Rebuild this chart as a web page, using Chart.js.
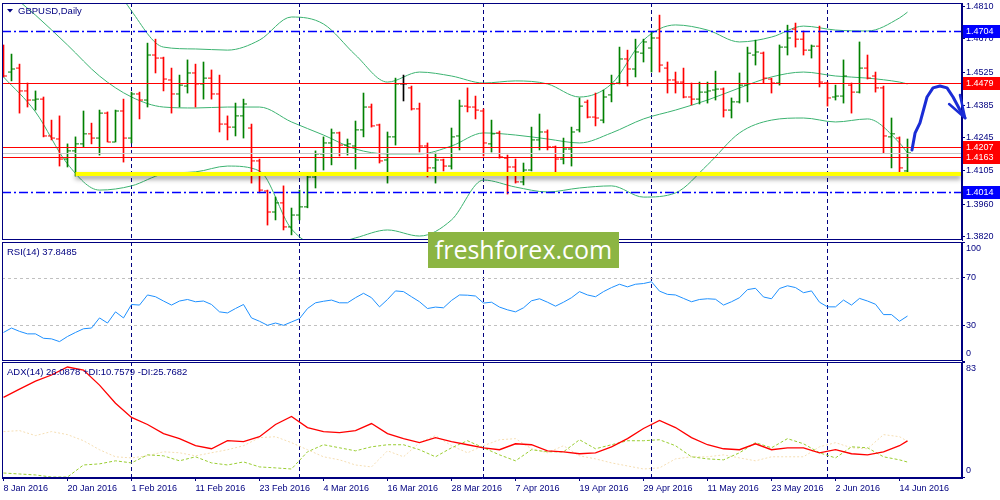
<!DOCTYPE html>
<html>
<head>
<meta charset="utf-8">
<script src="https://cdn.jsdelivr.net/npm/chart.js@4.4.0/dist/chart.umd.min.js"></script>
<style>
  body { margin: 0; background: #fff; width: 1000px; height: 500px; overflow: hidden; position: relative; }
  canvas { position: absolute; left: 0; }
  #main { top: 0; }
  #rsi { top: 242px; }
  #adx { top: 362px; }
  #logo { position: absolute; left: 428px; top: 232px; width: 191px; height: 36px; background: #8cb543;
          color: #fff; font: 25px "Open Sans", sans-serif; line-height: 35px; text-align: center; }
</style>
</head>
<body>
<canvas id="main" width="1000" height="242"></canvas>
<canvas id="rsi" width="1000" height="120"></canvas>
<canvas id="adx" width="1000" height="138"></canvas>
<div id="logo">freshforex.com</div>
<script>
// GBPUSD daily bars, 8 Jan 2016 .. 15 Jun 2016
const opens = [1.4621,1.4527,1.4544,1.4446,1.4407,1.4411,1.4253,1.4240,1.4154,1.4189,
  1.4219,1.4262,1.4244,1.4351,1.4227,1.4360,1.4244,1.4433,1.4407,1.4600,
  1.4587,1.4493,1.4433,1.4467,1.4523,1.4476,1.4501,1.4433,1.4304,1.4291,
  1.4339,1.4287,1.4146,1.4017,1.3927,1.3966,1.3863,1.3914,1.3949,1.4077,
  1.4176,1.4223,1.4266,1.4214,1.4210,1.4279,1.4377,1.4300,1.4150,1.4249,
  1.4476,1.4459,1.4369,1.4210,1.4116,1.4150,1.4124,1.4253,1.4381,1.4377,
  1.4360,1.4219,1.4266,1.4158,1.4120,1.4056,1.4107,1.4236,1.4270,1.4206,
  1.4154,1.4197,1.4279,1.4398,1.4334,1.4321,1.4429,1.4480,1.4583,1.4540,
  1.4608,1.4630,1.4673,1.4544,1.4493,1.4484,1.4420,1.4411,1.4441,1.4450,
  1.4454,1.4364,1.4399,1.4471,1.4600,1.4608,1.4497,1.4480,1.4634,1.4711,
  1.4668,1.4621,1.4638,1.4480,1.4420,1.4424,1.4471,1.4441,1.4544,1.4510,
  1.4459,1.4249,1.4244,1.4103]
const highs = [1.4643,1.4604,1.4561,1.4480,1.4446,1.4420,1.4321,1.4339,1.4219,1.4249,
  1.4360,1.4308,1.4364,1.4356,1.4364,1.4411,1.4441,1.4441,1.4651,1.4668,
  1.4591,1.4544,1.4514,1.4579,1.4561,1.4570,1.4536,1.4514,1.4339,1.4394,
  1.4411,1.4304,1.4154,1.4021,1.3991,1.4039,1.3944,1.4021,1.4081,1.4189,
  1.4249,1.4283,1.4270,1.4240,1.4317,1.4437,1.4390,1.4304,1.4270,1.4501,
  1.4514,1.4467,1.4394,1.4223,1.4180,1.4154,1.4287,1.4407,1.4459,1.4424,
  1.4369,1.4321,1.4274,1.4171,1.4154,1.4137,1.4291,1.4347,1.4279,1.4210,
  1.4244,1.4291,1.4416,1.4407,1.4437,1.4450,1.4514,1.4634,1.4621,1.4668,
  1.4668,1.4698,1.4771,1.4570,1.4527,1.4544,1.4480,1.4484,1.4484,1.4531,
  1.4459,1.4416,1.4523,1.4634,1.4664,1.4613,1.4501,1.4643,1.4728,1.4737,
  1.4703,1.4643,1.4724,1.4484,1.4471,1.4579,1.4480,1.4656,1.4600,1.4527,
  1.4467,1.4330,1.4249,1.4240]
const lows = [1.4506,1.4489,1.4351,1.4377,1.4364,1.4249,1.4236,1.4124,1.4120,1.4081,
  1.4206,1.4219,1.4171,1.4227,1.4227,1.4141,1.4223,1.4326,1.4377,1.4523,
  1.4446,1.4351,1.4377,1.4437,1.4377,1.4411,1.4411,1.4270,1.4236,1.4253,
  1.4244,1.4051,1.4009,1.3871,1.3893,1.3850,1.3829,1.3893,1.3945,1.4030,
  1.4107,1.4129,1.4167,1.4171,1.4111,1.4249,1.4291,1.4137,1.4051,1.4214,
  1.4403,1.4364,1.4184,1.4077,1.4051,1.4103,1.4111,1.4193,1.4356,1.4326,
  1.4167,1.4184,1.4158,1.4004,1.4051,1.4043,1.4103,1.4193,1.4193,1.4086,
  1.4133,1.4124,1.4270,1.4330,1.4296,1.4309,1.4399,1.4476,1.4467,1.4506,
  1.4570,1.4527,1.4527,1.4437,1.4437,1.4416,1.4386,1.4390,1.4394,1.4407,
  1.4334,1.4330,1.4394,1.4399,1.4557,1.4480,1.4437,1.4471,1.4600,1.4634,
  1.4600,1.4587,1.4463,1.4381,1.4407,1.4394,1.4351,1.4437,1.4497,1.4441,
  1.4180,1.4116,1.4090,1.4090]
const closes = [1.4510,1.4540,1.4446,1.4407,1.4411,1.4253,1.4244,1.4154,1.4189,1.4219,
  1.4262,1.4244,1.4351,1.4227,1.4360,1.4244,1.4433,1.4407,1.4600,1.4587,
  1.4497,1.4433,1.4471,1.4523,1.4476,1.4501,1.4433,1.4304,1.4291,1.4339,
  1.4390,1.4146,1.4021,1.3927,1.3966,1.3863,1.3914,1.3949,1.4077,1.4176,
  1.4223,1.4266,1.4214,1.4219,1.4279,1.4377,1.4296,1.4146,1.4249,1.4476,
  1.4476,1.4369,1.4210,1.4116,1.4150,1.4124,1.4249,1.4381,1.4377,1.4364,
  1.4223,1.4262,1.4163,1.4120,1.4056,1.4107,1.4236,1.4270,1.4206,1.4154,
  1.4197,1.4270,1.4381,1.4334,1.4330,1.4420,1.4476,1.4583,1.4540,1.4613,
  1.4656,1.4673,1.4557,1.4493,1.4484,1.4420,1.4411,1.4441,1.4446,1.4454,
  1.4364,1.4399,1.4471,1.4608,1.4613,1.4501,1.4480,1.4634,1.4673,1.4668,
  1.4621,1.4638,1.4484,1.4416,1.4424,1.4510,1.4441,1.4544,1.4501,1.4459,
  1.4253,1.4262,1.4116,1.4180]

// Bollinger bands, read every 4th bar (last one is bar 113)
const bbBars = [0,4,8,12,16,20,24,28,32,36,40,44,48,52,56,60,64,68,72,76,80,84,88,92,96,100,104,108,112,113]
const bbUpper = [null,null,null,1.5007,1.4789,1.4634,1.4626,1.4621,1.4664,1.4763,1.4733,1.4600,1.4484,1.4527,1.4510,
  1.4480,1.4489,1.4476,1.4420,1.4476,1.4664,1.4729,1.4707,1.4656,1.4677,1.4724,1.4707,1.4703,1.4759,1.4784]
const bbMiddle = [1.4887,1.4771,1.4643,1.4510,1.4420,1.4377,1.4373,1.4377,1.4377,1.4313,1.4257,1.4197,1.4176,1.4176,1.4210,
  1.4266,1.4257,1.4240,1.4223,1.4266,1.4326,1.4364,1.4407,1.4459,1.4506,1.4527,1.4510,1.4501,1.4484,1.4476]
const bbLower = [1.4506,1.4356,1.4133,1.4021,1.4039,1.4090,1.4099,1.4124,1.4103,1.3854,1.3781,1.3816,1.3850,1.3824,1.3893,
  1.4064,1.4034,1.4013,1.4030,1.4039,1.3991,1.4009,1.4129,1.4266,1.4321,1.4330,1.4313,1.4326,1.4223,1.4180]

// RSI(14), one value per bar
const rsi = [24.0,27.7,24.9,22.8,22.8,19.1,18.6,16.3,20.6,24.0,
  27.1,27.7,36.2,31.9,41.3,36.2,47.5,47.0,55.5,54.0,
  50.4,47.0,50.4,51.7,49.8,50.4,47.5,41.3,40.4,44.1,
  47.5,36.2,33.4,30.0,31.9,30.0,32.8,35.6,44.1,48.9,
  50.2,51.2,48.9,48.9,53.2,56.9,53.2,45.5,51.7,58.9,
  58.3,54.0,49.8,44.1,45.3,44.7,50.9,55.5,55.3,54.6,
  48.7,49.4,45.3,43.0,41.3,44.7,50.6,52.3,49.4,46.1,
  49.4,53.2,58.3,55.5,54.0,58.3,61.7,64.5,62.3,64.5,
  65.1,66.6,58.7,56.0,55.5,52.6,49.8,51.7,52.3,51.9,
  47.0,49.8,53.2,60.0,61.1,53.8,52.3,60.9,63.2,61.7,
  57.4,58.9,49.4,45.5,45.5,51.2,47.0,52.6,50.4,47.7,
  39.0,39.0,33.4,37.8]

// ADX(14), read every 2nd bar (last one is bar 113)
const diBars = []
for (let i = 0; i <= 112; i += 2) diBars.push(i)
diBars.push(113)
const adx = [57.5,63.4,69.2,73.6,79.4,77.2,66.3,53.2,43.0,37.9,31.3,27.7,22.6,20.4,26.2,25.5,29.1,37.9,43.7,35.7,
  32.8,32.0,33.5,38.6,31.3,27.7,24.8,28.4,25.5,23.3,21.1,19.7,24.0,23.3,18.9,18.2,16.8,17.5,21.8,27.7,
  35.0,40.8,35.7,28.4,23.3,20.4,19.7,24.0,19.7,21.1,21.1,17.5,19.7,16.8,16.0,18.2,22.6,26.1]
const plusDI = [2.9,2.2,1.5,0,0,8.7,9.5,11.7,10.2,16.0,15.3,11.7,14.6,10.2,8.7,10.9,7.3,6.6,5.8,18.2,
  23.3,21.1,18.9,21.8,23.3,23.3,19.7,14.6,21.1,26.2,21.1,16.0,11.7,19.7,18.2,18.2,26.9,20.4,23.3,26.2,
  26.2,26.9,22.6,14.6,13.1,12.4,17.5,24.8,21.1,27.7,24.0,17.5,13.8,21.8,21.1,14.6,12.4,10.8]
const minusDI = [32.8,33.5,29.9,32.8,30.6,26.2,19.7,14.6,13.8,15.3,18.2,17.5,15.3,17.5,19.7,22.6,28.4,29.1,24.8,19.7,
  14.6,12.4,8.7,7.3,18.9,14.6,24.8,29.9,22.6,17.5,22.6,26.9,27.7,20.4,17.5,22.6,15.3,13.1,10.2,8.0,
  5.8,6.6,13.1,14.6,14.6,16.0,13.8,11.7,14.6,14.6,14.6,21.8,24.8,21.1,20.4,30.6,29.1,25.8]

// axes
const priceTicks = [1.4810, 1.4670, 1.4525, 1.4385, 1.4245, 1.4105, 1.3960, 1.3820]
const rsiTicks = [100, 70, 30, 0]
const rsiLevels = [70, 30]
const adxTicks = [83, 0]
const dateBars = [0, 8, 16, 24, 32, 40, 48, 56, 64, 72, 80, 88, 96, 104, 112]
const dateLabels = ['8 Jan 2016', '20 Jan 2016', '1 Feb 2016', '11 Feb 2016', '23 Feb 2016', '4 Mar 2016',
  '16 Mar 2016', '28 Mar 2016', '7 Apr 2016', '19 Apr 2016', '29 Apr 2016', '11 May 2016',
  '23 May 2016', '2 Jun 2016', '14 Jun 2016']
const monthStarts = [16, 37, 60, 81, 103]

// drawn objects on the price chart
const redLevels = [1.4479, 1.4207, 1.4163]
const blueLevels = [1.4704, 1.4014]
const supportLevel = 1.4090
const supportFrom = 9
const arrowBars = [113.56, 113.94, 114.56, 115.44, 116.19, 117.06, 117.94, 118.69, 119.56, 120.2]
const arrowPrices = [1.4193, 1.4265, 1.4309, 1.4420, 1.4459, 1.4467, 1.4459, 1.4420, 1.4364, 1.4330]
const arrowHead = [[118.2, 1.4390], [120.2, 1.4330], [119.56, 1.4429]]

const navy = '#000080'
const fam = '"Liberation Sans", Arial, sans-serif'
Chart.defaults.font.family = fam
Chart.defaults.font.size = 9
Chart.defaults.color = navy
const xMin = -0.1875, xMax = 119.8125

const barColor = closes.map((c, i) => c > opens[i] ? '#008000' : (c < opens[i] ? '#ff0000' : '#000000'))

const frame = {
  id: 'frame',
  beforeDatasetsDraw(chart) {
    const { ctx, chartArea: a, scales: { x } } = chart
    ctx.save()
    ctx.strokeStyle = navy
    ctx.lineWidth = 1
    ctx.setLineDash([4, 3])
    monthStarts.forEach(i => {
      const px = Math.round(x.getPixelForValue(i) - 0.5) + 0.5
      ctx.beginPath(); ctx.moveTo(px, a.top); ctx.lineTo(px, a.bottom); ctx.stroke()
    })
    ctx.restore()
  },
  afterDraw(chart) {
    const { ctx, chartArea: a } = chart
    ctx.save()
    ctx.strokeStyle = navy
    ctx.lineWidth = 1
    ctx.strokeRect(a.left + 0.5, a.top + 0.5, a.right - a.left - 1, a.bottom - a.top - 1)
    const t = chart.options.plugins.frame
    if (t && t.title) {
      ctx.fillStyle = navy
      ctx.font = '9.5px ' + fam
      ctx.textBaseline = 'middle'
      ctx.fillText(t.title, a.left + t.titleX, a.top + t.titleY)
    }
    if (t && t.sideTicks) {
      const y = chart.scales.y
      ctx.font = '9px ' + fam
      ctx.textBaseline = 'middle'
      t.sideTicks.forEach(v => {
        let py = y.getPixelForValue(v)
        py = Math.min(Math.max(py, a.top + 7), a.bottom - 7)
        ctx.fillText(String(v), a.right + 4, py)
      })
    }
    ctx.restore()
  }
}

const levelY = (y, v) => Math.round(y.getPixelForValue(v)) + 0.5

const objects = {
  id: 'objects',
  afterDatasetsDraw(chart) {
    const { ctx, chartArea: a, scales: { x, y } } = chart
    ctx.save()
    ctx.lineWidth = 1
    // bid line
    ctx.strokeStyle = '#c8c8c8'
    let py = levelY(y, closes[closes.length - 1])
    ctx.beginPath(); ctx.moveTo(a.left, py); ctx.lineTo(a.right, py); ctx.stroke()
    ctx.strokeStyle = '#ff0000'
    redLevels.forEach(v => {
      py = levelY(y, v)
      ctx.beginPath(); ctx.moveTo(a.left, py); ctx.lineTo(a.right, py); ctx.stroke()
    })
    ctx.strokeStyle = '#0000ff'
    ctx.lineWidth = 1.3
    ctx.setLineDash([9, 3, 2, 3])
    blueLevels.forEach(v => {
      py = levelY(y, v)
      ctx.beginPath(); ctx.moveTo(a.left, py); ctx.lineTo(a.right, py); ctx.stroke()
    })
    ctx.setLineDash([])
    // support band with shadow
    py = y.getPixelForValue(supportLevel)
    ctx.save()
    ctx.shadowColor = 'rgba(0,0,0,0.45)'
    ctx.shadowBlur = 5
    ctx.shadowOffsetY = 3
    ctx.strokeStyle = '#ffff00'
    ctx.lineWidth = 4
    ctx.beginPath(); ctx.moveTo(x.getPixelForValue(supportFrom), py); ctx.lineTo(a.right - 1, py); ctx.stroke()
    ctx.restore()
    ctx.restore()
  },
  afterDraw(chart) {
    const { ctx, chartArea: a, scales: { x, y } } = chart
    ctx.save()
    // price tags on the axis
    ctx.font = '9px ' + fam
    ctx.textBaseline = 'middle'
    const tag = (v, col) => {
      const py = Math.round(y.getPixelForValue(v))
      ctx.fillStyle = col
      ctx.fillRect(a.right + 1, py - 6, 1000 - a.right - 1, 13)
      ctx.fillStyle = '#ffffff'
      ctx.fillText(v.toFixed(4), a.right + 4, py + 0.5)
    }
    blueLevels.forEach(v => tag(v, '#0000ff'))
    redLevels.forEach(v => tag(v, '#ff0000'))
    // title with its small triangle
    ctx.fillStyle = navy
    ctx.beginPath()
    ctx.moveTo(a.left + 5, a.top + 6); ctx.lineTo(a.left + 11, a.top + 6); ctx.lineTo(a.left + 8, a.top + 9.5)
    ctx.closePath(); ctx.fill()
    ctx.font = '9.5px ' + fam
    ctx.fillText('GBPUSD,Daily', a.left + 16, a.top + 8)
    // hand drawn forecast arrow
    ctx.strokeStyle = '#1a2cd6'
    ctx.lineWidth = 3
    ctx.lineCap = 'round'
    ctx.lineJoin = 'round'
    ctx.beginPath()
    arrowBars.forEach((b, k) => {
      const px = x.getPixelForValue(b), ppy = y.getPixelForValue(arrowPrices[k])
      k ? ctx.lineTo(px, ppy) : ctx.moveTo(px, ppy)
    })
    ctx.stroke()
    ctx.lineWidth = 2.5
    ctx.beginPath()
    arrowHead.forEach((p, k) => {
      const px = x.getPixelForValue(p[0]), ppy = y.getPixelForValue(p[1])
      k ? ctx.lineTo(px, ppy) : ctx.moveTo(px, ppy)
    })
    ctx.stroke()
    ctx.restore()
  }
}

// keep the plot areas exactly where the layout padding puts them
const noPad = s => { s.paddingTop = 0; s.paddingBottom = 0; s.paddingLeft = 0; s.paddingRight = 0 }

const hiddenX = { type: 'linear', min: xMin, max: xMax, offset: false, display: false }
const rightAxis = (extra) => Object.assign({
  position: 'right',
  afterFit: s => { s.width = 38; noPad(s) },
  grid: { drawOnChartArea: false, tickLength: 3, color: navy },
  border: { color: navy }
}, extra)
const common = {
  responsive: false,
  animation: false,
  events: [],
  plugins: { legend: { display: false }, tooltip: { enabled: false } }
}

const band = (vals) => ({
  type: 'line',
  data: bbBars.map((b, k) => ({ x: b, y: vals[k] })),
  borderColor: '#3cb371', borderWidth: 1, pointRadius: 0,
  cubicInterpolationMode: 'monotone', spanGaps: false
})

new Chart(document.getElementById('main'), {
  type: 'bar',
  data: {
    datasets: [
      {
        type: 'scatter', data: closes.map((c, i) => ({ x: i + 0.25, y: c })),
        pointStyle: 'line', pointRadius: 1.5, pointBorderWidth: 1, pointBorderColor: barColor
      },
      {
        type: 'scatter', data: opens.map((o, i) => ({ x: i - 0.25, y: o })),
        pointStyle: 'line', pointRadius: 1.5, pointBorderWidth: 1, pointBorderColor: barColor
      },
      {
        type: 'bar', data: lows.map((l, i) => ({ x: i, y: [l, highs[i]] })),
        backgroundColor: barColor, barThickness: 1, borderWidth: 0, borderSkipped: false
      },
      band(bbUpper), band(bbMiddle), band(bbLower)
    ]
  },
  options: Object.assign({}, common, {
    layout: { autoPadding: false, padding: { left: 2, top: 3, right: 0, bottom: 2 } },
    scales: {
      x: hiddenX,
      y: rightAxis({
        min: 1.3807, max: 1.4823,
        afterBuildTicks: s => { s.ticks = priceTicks.map(v => ({ value: v })) },
        ticks: { autoSkip: false, padding: 1, callback: v => v.toFixed(4) }
      })
    }
  }),
  plugins: [frame, objects]
})

new Chart(document.getElementById('rsi'), {
  type: 'line',
  data: {
    datasets: [{
      data: rsi.map((v, i) => ({ x: i, y: v })),
      borderColor: '#1e90ff', borderWidth: 1, pointRadius: 0
    }]
  },
  options: Object.assign({}, common, {
    layout: { autoPadding: false, padding: { left: 2, top: 0, right: 0, bottom: 1 } },
    scales: {
      x: hiddenX,
      y: rightAxis({
        min: 0, max: 100,
        afterBuildTicks: s => { s.ticks = rsiTicks.map(v => ({ value: v })) },
        ticks: { display: false }
      })
    },
    plugins: Object.assign({}, common.plugins, {
      frame: { title: 'RSI(14) 37.8485', titleX: 5, titleY: 10, sideTicks: rsiTicks }
    })
  }),
  plugins: [frame, {
    id: 'rsiLevels',
    beforeDatasetsDraw(chart) {
      const { ctx, chartArea: a, scales: { y } } = chart
      ctx.save()
      ctx.strokeStyle = '#c0c0c0'
      ctx.setLineDash([3, 3])
      rsiLevels.forEach(v => {
        const py = levelY(y, v)
        ctx.beginPath(); ctx.moveTo(a.left, py); ctx.lineTo(a.right, py); ctx.stroke()
      })
      ctx.restore()
    }
  }]
})

new Chart(document.getElementById('adx'), {
  type: 'line',
  data: {
    datasets: [
      { data: diBars.map((b, k) => ({ x: b, y: adx[k] })), borderColor: '#ff0000', borderWidth: 1.3, pointRadius: 0 },
      { data: diBars.map((b, k) => ({ x: b, y: plusDI[k] })), borderColor: '#9acd32', borderWidth: 1, borderDash: [3, 2], pointRadius: 0 },
      { data: diBars.map((b, k) => ({ x: b, y: minusDI[k] })), borderColor: '#f5deb3', borderWidth: 1, borderDash: [2, 2], pointRadius: 0 }
    ]
  },
  options: Object.assign({}, common, {
    layout: { autoPadding: false, padding: { left: 2, top: 0, right: 0, bottom: 0 } },
    scales: {
      x: {
        type: 'linear', min: xMin, max: xMax, offset: false,
        afterBuildTicks: s => { s.ticks = dateBars.map(v => ({ value: v })) },
        afterFit: s => { s.height = 22; noPad(s) },
        ticks: { align: 'start', autoSkip: false, maxRotation: 0, padding: 2, callback: (v, k) => dateLabels[k] },
        grid: { drawOnChartArea: false, tickLength: 3, color: navy },
        border: { color: navy }
      },
      y: rightAxis({
        min: -0.7, max: 83,
        afterBuildTicks: s => { s.ticks = adxTicks.map(v => ({ value: v })) },
        ticks: { display: false }
      })
    },
    plugins: Object.assign({}, common.plugins, {
      frame: { title: 'ADX(14) 26.0878 +DI:10.7579 -DI:25.7682', titleX: 5, titleY: 10, sideTicks: adxTicks }
    })
  }),
  plugins: [frame]
})
</script>
</body>
</html>
